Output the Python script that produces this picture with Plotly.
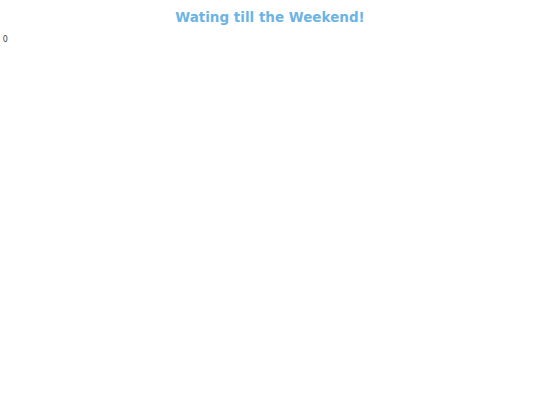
import plotly.graph_objects as go

# countdown value shown in the corner
days_left = [0]
x_pos = [0]
y_pos = [0]

fig = go.Figure(go.Scatter(
    x=x_pos, y=y_pos, mode="text",
    text=[str(v) for v in days_left],
    textposition="middle center",
    textfont=dict(family="DejaVu Sans", size=8, color="#444444"),
    cliponaxis=False,
    hoverinfo="skip", showlegend=False,
))

fig.update_layout(
    title=dict(text="<b>Wating till the Weekend!</b>", x=0.5, xanchor="center",
               y=0.97, yanchor="top",
               font=dict(family="DejaVu Sans", size=13.5, color="#6CB4E4")),
    width=540, height=405,
    margin=dict(l=0, r=0, t=32, b=0),
    paper_bgcolor="white", plot_bgcolor="white",
    xaxis=dict(visible=False, range=[-1, 100]),
    yaxis=dict(visible=False, range=[-46, 1]),
)

# drop the page's default body margin so the figure sits at the window's corner
fig.write_html("out.html", config={"displayModeBar": False},
               post_script="document.body.style.margin='0';")
